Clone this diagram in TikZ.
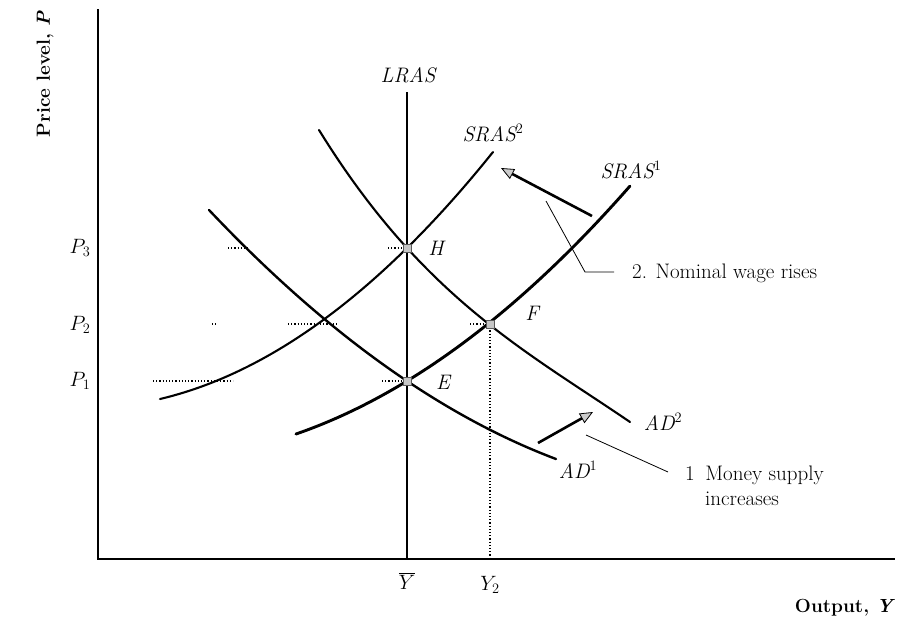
\documentclass[tikz,border=0pt]{standalone}
\usetikzlibrary{arrows.meta}
\begin{document}
\begin{tikzpicture}[x=1pt,y=-1pt,
  txt/.style={font=\fontsize{21}{25}\selectfont, inner sep=0pt},
  axistxt/.style={font=\fontsize{19}{23}\selectfont\bfseries, inner sep=0pt},
  axisline/.style={line width=1.6pt},
  thick curve/.style={line width=2.9pt, line cap=round},
  thin curve/.style={line width=2.1pt, line cap=round},
  ptbox/.style={draw=gray!70!black, fill=gray!45, minimum size=8pt, inner sep=0pt, line width=0.6pt},
  guide/.style={dotted, line width=1.2pt},
  leader/.style={line width=0.8pt},
  shift arrow/.style={line width=2.6pt, -{Triangle[length=13pt,width=11pt,fill=gray!40,line width=0.8pt]}}
]
\useasboundingbox (0,0) rectangle (918,621);
% axes
\coordinate (O) at (98,559);
\coordinate (ytop) at (98,9);
\coordinate (xend) at (895,559);
\draw[axisline] (ytop) -- (O) -- (xend);
% points
\coordinate (H) at (407,248);
\coordinate (E) at (407,381);
\coordinate (F) at (490,324);
% LRAS
\coordinate (lrastop) at (407,92);
\coordinate (lrasbot) at (407,559);
\draw[line width=2.6pt] (lrastop) -- (lrasbot);
\node[txt] (lraslab) at (408,75) {\itshape LRAS};
% SRAS1 (v = (x-407)/100)
\draw[thick curve] plot[domain=-1.11:2.23, samples=90]
  ({407+100*\x}, {381 - 60.94*\x - 11.885*\x*\x});
\node[txt] (s1lab) at (631,170) {\itshape SRAS$^1$};
% SRAS2
\draw[thin curve] plot[domain=-2.47:0.86, samples=90]
  ({407+100*\x}, {248 - 98.59*\x - 15.163*\x*\x});
\node[txt] (s2lab) at (493,133) {\itshape SRAS$^2$};
% AD1
\draw[thin curve, line width=2.4pt] plot[domain=-1.98:1.49, samples=90]
  ({407+100*\x}, {381 + 66.96*\x - 9.8026*\x*\x});
\node[txt] (d1lab) at (578,470) {\itshape AD$^1$};
% AD2
\draw[thin curve] plot[domain=-0.88:2.23, samples=90]
  ({407+100*\x}, {248 + 109.626*\x - 23.945*\x*\x + 4.3834*\x*\x*\x});
\node[txt] (d2lab) at (663,422) {\itshape AD$^2$};
% guide dots
\coordinate (g3a) at (228,248); \coordinate (g3b) at (249,248);
\coordinate (g3c) at (388,248);
\draw[guide] (g3a) -- (g3b);
\draw[guide] (g3c) -- (H);
\coordinate (g2a) at (212,324); \coordinate (g2b) at (217,324);
\coordinate (g2c) at (288,324); \coordinate (g2d) at (338,324);
\coordinate (g2e) at (470,324);
\draw[guide] (g2a) -- (g2b);
\draw[guide] (g2c) -- (g2d);
\draw[guide] (g2e) -- (F);
\coordinate (g1a) at (153,381); \coordinate (g1b) at (233,381);
\coordinate (g1c) at (382,381);
\draw[guide] (g1a) -- (g1b);
\draw[guide] (g1c) -- (E);
\coordinate (Fbot) at (490,559);
\draw[guide] (F) -- (Fbot);
% point markers
\node[ptbox] (Hbox) at (H) {};
\node[ptbox] (Ebox) at (E) {};
\node[ptbox] (Fbox) at (F) {};
\node[txt] (Hlab) at (436,248) {\itshape H};
\node[txt] (Elab) at (443,382) {\itshape E};
\node[txt] (Flab) at (532,313) {\itshape F};
% axis labels
\node[txt] (p3) at (80,248) {$P_3$};
\node[txt] (p2) at (80,325) {$P_2$};
\node[txt] (p1) at (80,381) {$P_1$};
\node[txt] (ybar) at (407,581) {$\overline{Y}$};
\node[txt] (y2) at (490,585) {$Y_2$};
\node[axistxt, rotate=90] (ylab) at (45,74) {Price level, \textit{P}};
\node[axistxt] (xlab) at (845,608) {Output, \textit{Y}};
% shift arrows
\coordinate (adfrom) at (538,443);
\coordinate (adto) at (593,412);
\draw[shift arrow] (adfrom) -- (adto);
\coordinate (srfrom) at (592,216);
\coordinate (srto) at (501,168);
\draw[shift arrow] (srfrom) -- (srto);
% annotations
\coordinate (l1a) at (586,435);
\coordinate (l1b) at (668,472);
\draw[leader] (l1a) -- (l1b);
\node[txt, anchor=west] (note1) at (685,475) {1\enspace Money supply};
\node[txt, anchor=west] (note1b) at (705,499) {increases};
\coordinate (l2a) at (546,201);
\coordinate (l2b) at (585,272);
\coordinate (l2c) at (614,272);
\draw[leader] (l2a) -- (l2b) -- (l2c);
\node[txt, anchor=west] (note2) at (632,273) {2. Nominal wage rises};
\end{tikzpicture}
\end{document}
